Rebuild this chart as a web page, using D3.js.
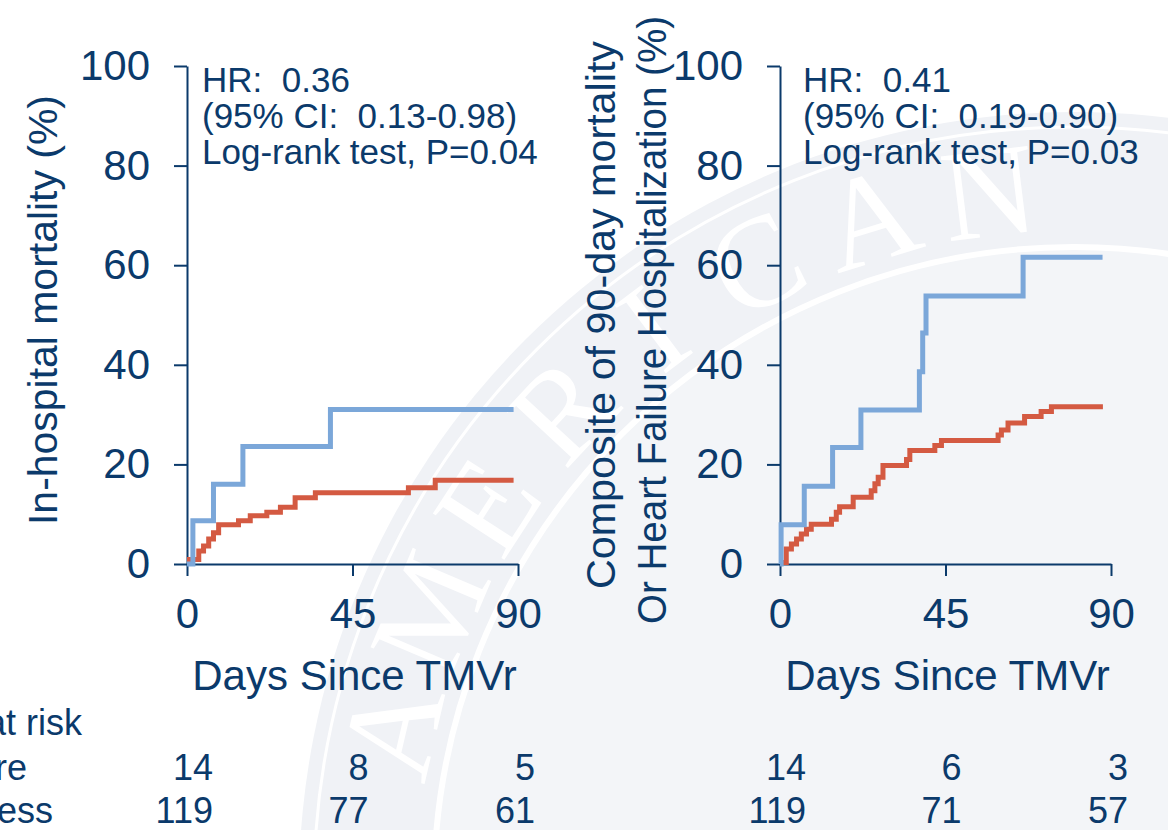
<!DOCTYPE html>
<html>
<head>
<meta charset="utf-8">
<script src="https://cdn.jsdelivr.net/npm/d3@7"></script>
<style>
    html, body { margin: 0; padding: 0; background: #ffffff; }
    svg { display: block; font-family: 'Liberation Sans', Arial, sans-serif; }
</style>
</head>
<body>
<script>
// ---- data ----
// left panel: in-hospital mortality (%)
const mortFailureDays = [0, 1.6, 7.2, 15.2, 39.0, 88.8];
const mortFailurePct  = [0, 8.7, 16.0, 23.6, 31.0, 31.0];
const mortSuccessDays = [0, 3.2, 4.5, 5.9, 7.2, 8.6, 14.0, 17.2, 21.7, 25.4, 29.4, 34.9, 60.2, 67.5, 88.8];
const mortSuccessPct  = [0.9, 2.6, 3.6, 5.0, 6.3, 7.9, 8.7, 9.7, 10.4, 11.4, 13.3, 14.3, 15.3, 16.8, 16.8];

// right panel: 90-day mortality or HF hospitalization (%)
const compFailureDays = [0, 0.3, 6.6, 14.3, 22.0, 37.9, 38.8, 39.7, 66.1, 87.7];
const compFailurePct  = [0, 7.9, 15.6, 23.4, 30.9, 38.6, 46.4, 53.8, 61.6, 61.6];
const compSuccessDays = [0, 1.7, 3.1, 4.5, 5.8, 7.2, 8.5, 14.0, 15.3, 16.2, 19.9, 24.8, 25.8, 26.7, 28.0,
                         34.4, 35.3, 42.1, 43.9, 59.3, 60.2, 62.0, 66.5, 71.0, 73.8, 87.8];
const compSuccessPct  = [0.3, 3.0, 4.0, 5.0, 6.0, 7.0, 8.0, 9.0, 10.4, 11.5, 13.4, 14.7, 16.1, 17.4, 19.8,
                         21.0, 22.8, 23.8, 24.8, 25.9, 26.9, 28.3, 29.6, 30.6, 31.6, 31.6];

// axes
const xTicks = [0, 45, 90];
const yTicks = [0, 20, 40, 60, 80, 100];

// numbers at risk
const riskRowLabels = ['Failure', 'Success'];
const mortRiskFailure = [14, 8, 5];
const mortRiskSuccess = [119, 77, 61];
const compRiskFailure = [14, 6, 3];
const compRiskSuccess = [119, 71, 57];

// stats text
const mortStats = ['HR:  0.36', '(95% CI:  0.13-0.98)', 'Log-rank test, P=0.04'];
const compStats = ['HR:  0.41', '(95% CI:  0.19-0.90)', 'Log-rank test, P=0.03'];

const NAVY = '#0b3a6b',
    BLUE = '#7ba7d9',
    RED = '#d45a42';

let svg = d3.select('body').append('svg')
    .attr('width', 1168)
    .attr('height', 830);

drawWatermark();

drawPanel({
    left: 187, right: 518,
    ylabel: ['In-hospital mortality (%)'],
    ylabelX: [57],
    ylabelLen: [430],
    ylabelY: [310],
    stats: mortStats, statsX: 202,
    failure: {days: mortFailureDays, pct: mortFailurePct},
    success: {days: mortSuccessDays, pct: mortSuccessPct},
    risk: [mortRiskFailure, mortRiskSuccess]
});

drawPanel({
    left: 780, right: 1111,
    ylabel: ['Composite of 90-day mortality', 'Or Heart Failure Hospitalization (%)'],
    ylabelX: [615, 666],
    ylabelLen: [548, 608],
    ylabelY: [315, 320],
    stats: compStats, statsX: 803,
    failure: {days: compFailureDays, pct: compFailurePct},
    success: {days: compSuccessDays, pct: compSuccessPct},
    risk: [compRiskFailure, compRiskSuccess]
});

// row labels of the at-risk table (cut off by the left edge, as in the source)
svg.append('text')
    .attr('x', 82).attr('y', 735)
    .attr('text-anchor', 'end')
    .attr('font-size', 36)
    .attr('fill', NAVY)
    .text('Number at risk');
riskRowLabels.forEach((label, i) => {
    svg.append('text')
        .attr('x', -83).attr('y', 780 + i * 43)
        .attr('font-size', 36)
        .attr('fill', NAVY)
        .text(label);
});

function drawPanel(cfg) {
    let x = d3.scaleLinear().domain([0, 90]).range([cfg.left, cfg.right]);
    let y = d3.scaleLinear().domain([0, 100]).range([564, 66]);

    let g = svg.append('g');

    // x axis
    let xAxisGroup = g.append('g')
        .attr('transform', 'translate(0,' + y(0) + ')')
        .call(d3.axisBottom(x).tickValues(xTicks).tickSize(12).tickSizeOuter(0).tickPadding(22));
    // y axis
    let yAxisGroup = g.append('g')
        .attr('transform', 'translate(' + x(0) + ',0)')
        .call(d3.axisLeft(y).tickValues(yTicks).tickSize(13).tickSizeOuter(0).tickPadding(24));

    [xAxisGroup, yAxisGroup].forEach((ax) => {
        ax.select('.domain').attr('stroke', NAVY).attr('stroke-width', 2);
        ax.selectAll('.tick line').attr('stroke', NAVY).attr('stroke-width', 2);
        ax.selectAll('text')
            .attr('fill', NAVY)
            .attr('font-size', 42)
            .attr('font-family', "'Liberation Sans', Arial, sans-serif");
    });

    // curves (step after, like a KM plot)
    let line = d3.line()
        .x((d) => x(d[0]))
        .y((d) => y(d[1]))
        .curve(d3.curveStepAfter);

    g.append('path')
        .datum(d3.zip(cfg.success.days, cfg.success.pct))
        .attr('d', line)
        .attr('fill', 'none')
        .attr('stroke', RED)
        .attr('stroke-width', 5);

    g.append('path')
        .datum(d3.zip(cfg.failure.days, cfg.failure.pct))
        .attr('d', line)
        .attr('fill', 'none')
        .attr('stroke', BLUE)
        .attr('stroke-width', 5);

    // HR / CI / p-value
    cfg.stats.forEach((s, i) => {
        g.append('text')
            .attr('x', cfg.statsX)
            .attr('y', 92 + i * 36)
            .attr('font-size', 35)
            .attr('fill', NAVY)
            .style('white-space', 'pre')
            .text(s);
    });

    // axis titles
    g.append('text')
        .attr('x', x(45) + 2)
        .attr('y', 690)
        .attr('text-anchor', 'middle')
        .attr('font-size', 42)
        .attr('fill', NAVY)
        .text('Days Since TMVr');

    cfg.ylabel.forEach((lbl, i) => {
        g.append('text')
            .attr('transform', 'translate(' + cfg.ylabelX[i] + ',' + cfg.ylabelY[i] + ') rotate(-90)')
            .attr('text-anchor', 'middle')
            .attr('font-size', 41)
            .attr('textLength', cfg.ylabelLen[i])
            .attr('lengthAdjust', 'spacingAndGlyphs')
            .attr('fill', NAVY)
            .text(lbl);
    });

    // numbers at risk, right aligned just past each tick
    let offsets = [26, 16, 17];
    cfg.risk.forEach((row, r) => {
        row.forEach((n, i) => {
            g.append('text')
                .attr('x', x(xTicks[i]) + offsets[i])
                .attr('y', 780 + r * 43)
                .attr('text-anchor', 'end')
                .attr('font-size', 36)
                .attr('fill', NAVY)
                .text(n);
        });
    });
}

function drawWatermark() {
    // faint society seal behind the right half of the slide
    let seal = svg.append('g').attr('transform', 'translate(1074,887)');
    seal.append('circle').attr('r', 775).attr('fill', '#f0f2f6');
    seal.append('circle').attr('r', 640).attr('fill', '#f3f5f8')
        .attr('stroke', '#ffffff').attr('stroke-width', 6);
    seal.append('circle').attr('r', 760).attr('fill', 'none')
        .attr('stroke', '#ffffff').attr('stroke-width', 3);

    let word = 'AMERICAN'.split('');
    word.forEach((ch, i) => {
        let angle = -167 + i * 10;
        seal.append('text')
            .attr('transform', 'rotate(' + (angle + 90) + ') translate(0,-700)')
            .attr('text-anchor', 'middle')
            .attr('dominant-baseline', 'central')
            .attr('font-family', "'Liberation Serif', 'DejaVu Serif', serif")
            .attr('font-size', 130)
            .attr('fill', '#ffffff')
            .text(ch);
    });
}
</script>
</body>
</html>
